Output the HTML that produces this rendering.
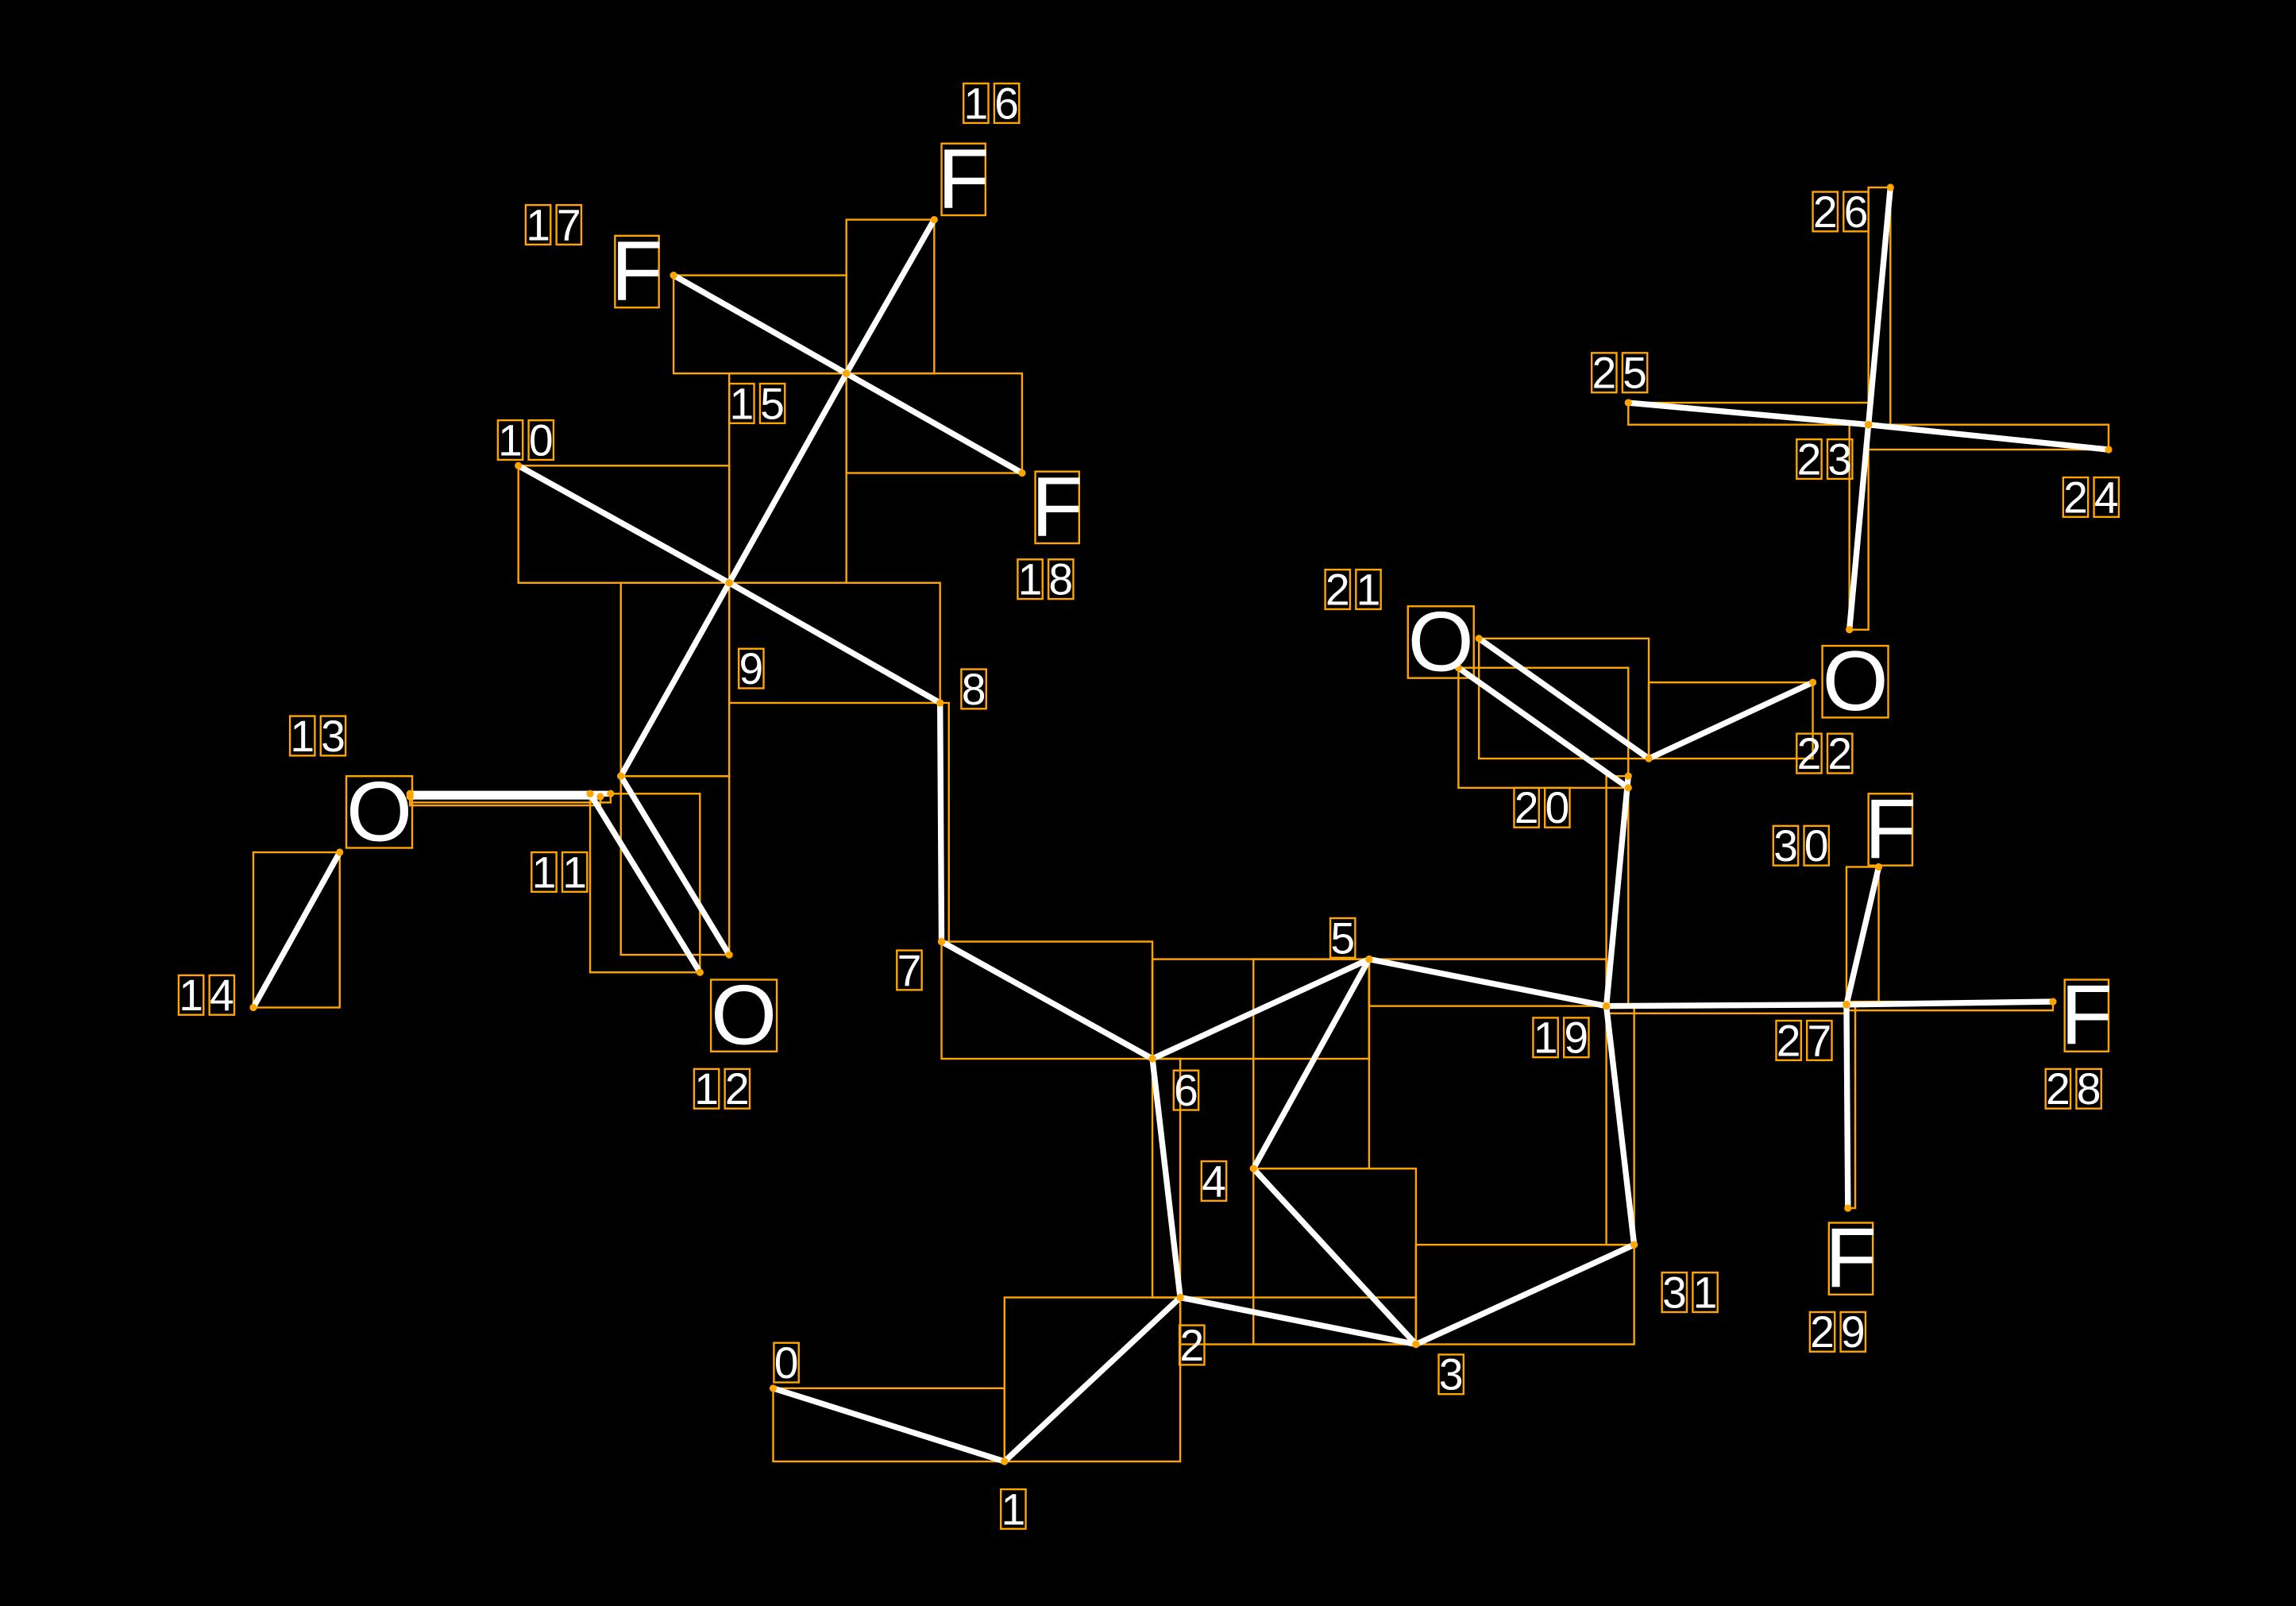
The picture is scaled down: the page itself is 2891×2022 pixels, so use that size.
<!DOCTYPE html>
<html><head><meta charset="utf-8"><style>
html,body{margin:0;padding:0;background:#000;}
svg{display:block;}
</style></head><body>
<svg id="s" width="2891" height="2022" viewBox="0 0 1568 1096.7" preserveAspectRatio="none" xmlns="http://www.w3.org/2000/svg">
<rect width="1568" height="1097" fill="#000"/>
<g id="boxes" fill="none" stroke="#FFA500" stroke-width="1.3"></g>
<g id="bonds" stroke="#fff" stroke-width="4" stroke-linecap="round"></g>
<g id="dots" fill="#FFA500"></g>
<g id="labels" font-family="Liberation Sans, DejaVu Sans, sans-serif" fill="#fff"></g>
</svg>
<script>
const NS="http://www.w3.org/2000/svg";
function el(p,t,a){const e=document.createElementNS(NS,t);for(const k in a)e.setAttribute(k,a[k]);document.getElementById(p).appendChild(e);return e;}
const bonds=[
[528,948,686,998],[686,998,806,886],[806,886,967,918],[806,886,787,723],[967,918,856,798],
[856,798,935,655],[935,655,787,723],[935,655,1097,687],[787,723,643,643],[643,643,642,480],
[642,480,498,398],[498,398,354,318],[498,398,424,530],[498,398,578,255],
[403,542,478,664],[424,530,498,652],[280,542,417,542],[280,544,410,544],[232,582,173,688],
[578,255,638,150],[578,255,460,188],[578,255,698,323],
[1097,687,1112,530],[1097,687,1261,686],[1097,687,1116,850],[1116,850,967,918],
[1010,436,1126,518],[996,456,1112,538],[1126,518,1238,466],
[1276,290,1263,430],[1276,290,1291,128],[1276,290,1112,275],[1276,290,1440,307],
[1261,686,1402,684],[1261,686,1262,825],[1261,686,1283,592]
];
for(const b of bonds){
 const x=Math.min(b[0],b[2]),y=Math.min(b[1],b[3]),w=Math.abs(b[2]-b[0]),h=Math.abs(b[3]-b[1]);
 el("boxes","rect",{x:x,y:y,width:Math.max(w,6),height:Math.max(h,6)});
 el("bonds","line",{x1:b[0],y1:b[1],x2:b[2],y2:b[3]});
 el("dots","circle",{cx:b[0],cy:b[1],r:2.5});el("dots","circle",{cx:b[2],cy:b[3],r:2.5});
}
const nums=[["0",537,930],["1",692,1030],["2",814,918],["3",991,938],["4",829,806],["5",917,640],["6",810,744],["7",621,662],["8",665,470],["9",513,456],["10",359,300],["11",382,595],["12",493,743],["13",217,502],["14",141,679],["15",517,275],["16",677,70],["17",378,153],["18",714,395],["19",1066,708],["20",1053,551],["21",924,402],["22",1246,514],["23",1246,313],["24",1428,339],["25",1106,254],["26",1257,144],["27",1232,710],["28",1416,743],["29",1255,909],["30",1230,577],["31",1154,882]];
for(const [t,cx,cy] of nums){
 const cw=17,gap=4,n=t.length,tot=n*cw+(n-1)*gap;
 for(let i=0;i<n;i++){
  const x=cx-tot/2+i*(cw+gap);
  el("boxes","rect",{x:x,y:cy-13,width:cw,height:27});
  const e=el("labels","text",{x:x+cw/2,y:cy+11,"font-size":30,"text-anchor":"middle"});e.textContent=t[i];
 }
}
const atoms=[["O",259,554,45],["O",508,693,45],["O",984,438,45],["O",1267,465,45],["F",658,122,30],["F",435,185,30],["F",722,346,30],["F",1425,693,30],["F",1264,859,30],["F",1291,566,30]];
for(const [t,cx,cy,w] of atoms){
 el("boxes","rect",{x:cx-w/2,y:cy-24,width:w,height:49});
 const e=el("labels","text",{x:cx,y:cy+20,"font-size":58,"text-anchor":"middle"});e.textContent=t;
}
</script>
</body></html>
